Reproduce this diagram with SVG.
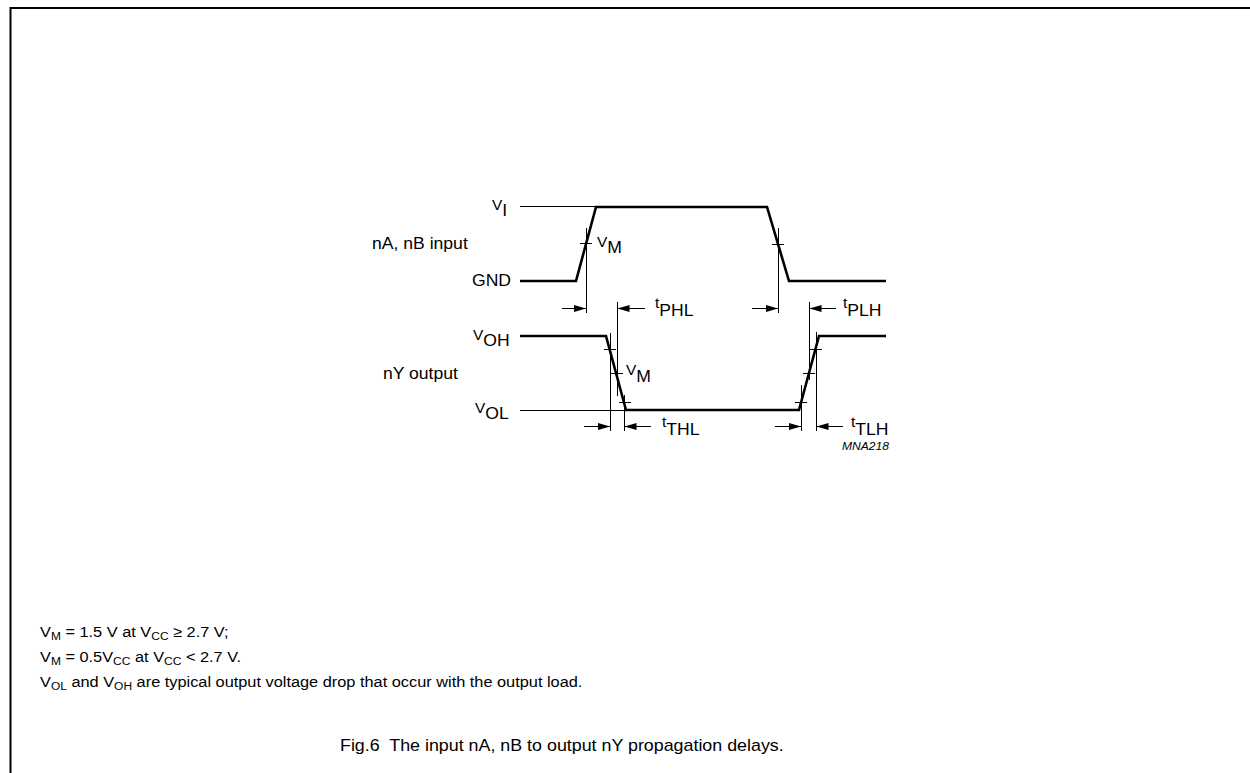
<svg xmlns="http://www.w3.org/2000/svg" width="1250" height="773" viewBox="0 0 1250 773">
<style>
.t{font-family:"Liberation Sans",Arial,sans-serif;font-size:16px;fill:#000}
.n{font-family:"Liberation Sans",Arial,sans-serif;font-size:15px;fill:#000}
.m{font-size:14px}
.s{font-size:11px}
.w{fill:none;stroke:#000;stroke-width:2.6;stroke-linejoin:miter}
.th{fill:none;stroke:#000;stroke-width:1}
.ar{fill:none;stroke:#000;stroke-width:1;marker-end:url(#ah)}
</style>
<defs>
<marker id="ah" markerUnits="userSpaceOnUse" markerWidth="13" markerHeight="8" refX="12" refY="3.5" orient="auto"><path d="M0,0 L12,3.5 L0,7 z" fill="#000"/></marker>
</defs>
<rect width="1250" height="773" fill="#fff"/>
<g id="frame"><path d="M10.5,773 V8 H1250" fill="none" stroke="#000" stroke-width="2"/></g>

<g id="input-signal">
<path class="w" d="M520,281 H576 L596,207 H767 L789,281 H886"/>
<path class="th" d="M520,206.5 H596"/>
</g>
<g id="output-signal">
<path class="w" d="M520,336 H606 L626,410 H799 L819,336 H886"/>
<path class="th" d="M520,410.5 H626"/>
</g>

<g id="connectors">
<path class="th" d="M586.5,228 V313 M580,243.5 H592 M778.5,228 V313 M772,244.5 H784"/>
<path class="th" d="M617.5,302 V396 M809.5,302 V380"/>
<path class="th" d="M610.5,333 V431 M624.5,395 V431 M801.5,385 V431 M816.5,332 V431"/>
<path class="th" d="M604,349.5 H616 M611,373.5 H623 M619,402.5 H631 M810,349.5 H822 M803,373.5 H815 M795,402.5 H807"/>
<path class="ar" d="M562,308.5 H586"/>
<path class="ar" d="M645,308.5 H617.5"/>
<path class="ar" d="M752,308.5 H778"/>
<path class="ar" d="M836,308.5 H809.5"/>
<path class="ar" d="M584,426.5 H610"/>
<path class="ar" d="M651,426.5 H624.5"/>
<path class="ar" d="M775,426.5 H801"/>
<path class="ar" d="M843,426.5 H816.5"/>
</g>

<g id="labels">
<text class="t" transform="translate(372,249) scale(1.1,1)">nA, nB input</text>
<text class="t" transform="translate(472,286) scale(1.1,1)">GND</text>
<text class="t" transform="translate(383,379) scale(1.1,1)">nY output</text>
<text class="t" transform="translate(492,216) scale(1.1,1)"><tspan class="m" dy="-6">V</tspan><tspan dy="6">I</tspan></text>
<text class="t" transform="translate(473,346) scale(1.1,1)"><tspan class="m" dy="-6">V</tspan><tspan dy="6">OH</tspan></text>
<text class="t" transform="translate(475,419) scale(1.1,1)"><tspan class="m" dy="-6">V</tspan><tspan dy="6">OL</tspan></text>
<text class="t" transform="translate(597,253) scale(1.1,1)"><tspan class="m" dy="-6">V</tspan><tspan dy="6">M</tspan></text>
<text class="t" transform="translate(626,382) scale(1.1,1)"><tspan class="m" dy="-7">V</tspan><tspan dy="7">M</tspan></text>
<text class="t" transform="translate(655,316) scale(1.1,1)"><tspan class="m" dy="-8">t</tspan><tspan dy="8">PHL</tspan></text>
<text class="t" transform="translate(843,316) scale(1.1,1)"><tspan class="m" dy="-8">t</tspan><tspan dy="8">PLH</tspan></text>
<text class="t" transform="translate(662,435) scale(1.1,1)"><tspan class="m" dy="-8">t</tspan><tspan dy="8">THL</tspan></text>
<text class="t" transform="translate(851,435) scale(1.1,1)"><tspan class="m" dy="-8">t</tspan><tspan dy="8">TLH</tspan></text>
<text class="t" style="font-size:11px;font-style:italic" transform="translate(842,450) scale(1.1,1)">MNA218</text>
</g>

<g id="notes">
<text class="n" transform="translate(40,637) scale(1.09,1)">V<tspan class="s" dy="3">M</tspan><tspan dy="-3"> = 1.5 V at V</tspan><tspan class="s" dy="3">CC</tspan><tspan dy="-3"> ≥ 2.7 V;</tspan></text>
<text class="n" transform="translate(40,662) scale(1.09,1)">V<tspan class="s" dy="3">M</tspan><tspan dy="-3"> = 0.5V</tspan><tspan class="s" dy="3">CC</tspan><tspan dy="-3"> at V</tspan><tspan class="s" dy="3">CC</tspan><tspan dy="-3"> &lt; 2.7 V.</tspan></text>
<text class="n" transform="translate(40,687) scale(1.09,1)">V<tspan class="s" dy="3">OL</tspan><tspan dy="-3"> and V</tspan><tspan class="s" dy="3">OH</tspan><tspan dy="-3"> are typical output voltage drop that occur with the output load.</tspan></text>
<text class="t" style="font-size:17px" transform="translate(340,751) scale(1.05,1)">Fig.6&#160; The input nA, nB to output nY propagation delays.</text>
</g>
</svg>
